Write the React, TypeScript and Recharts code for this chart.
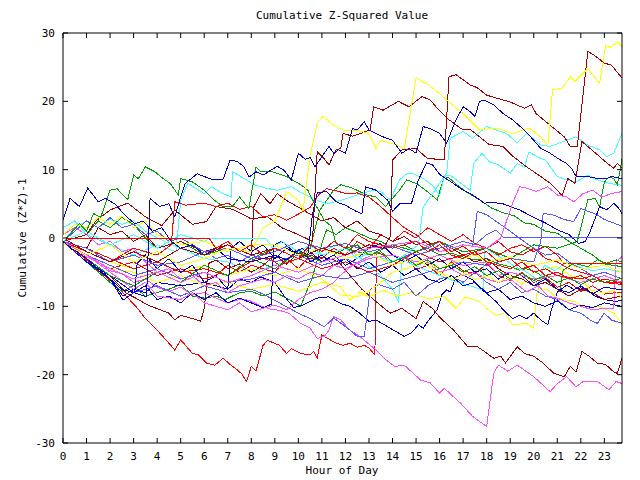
import { LineChart, Line, XAxis, YAxis } from "recharts";

// hourly ticks and value ticks
const hourTicks = [0, 1, 2, 3, 4, 5, 6, 7, 8, 9, 10, 11, 12, 13, 14, 15, 16, 17, 18, 19, 20, 21, 22, 23];
const valueTicks = [-30, -20, -10, 0, 10, 20, 30];

type Pt = [number, number]; // [hour, cumulative value]

const RED = "#ff0000";
const GREEN = "#00a000";
const BLUE = "#0000c8";
const MAGENTA = "#ff50ff";
const CYAN = "#40ffff";
const DARKRED = "#a00000";
const YELLOW = "#ffff00";
const SLATE = "#5858ff";

const redLow: Pt[] = [[0,-0.5],[0.5,-1.8],[1,-3.2],[1.5,-4.8],[2,-6.2],[2.7,-8.6],[3.1,-10],[3.5,-11.8],[4,-13.5],[4.4,-15],[4.75,-16.4],[5,-14.9],[5.5,-16.9],[5.75,-17.1],[6.1,-18.3],[6.45,-18.6],[6.8,-17.6],[7.1,-18.5],[7.4,-19.3],[7.6,-19.9],[7.8,-21],[8,-18.8],[8.2,-19.5],[8.5,-15.7],[8.7,-15],[9.2,-15.7],[9.5,-16.9],[9.7,-16.2],[10.1,-16.9],[10.5,-17.1],[10.65,-16.6],[10.8,-17.6],[11,-14.2],[11.6,-15.4],[11.9,-15.7],[12.2,-15.4],[12.5,-16],[12.8,-15.7],[13,-16.1],[13.25,-17.1],[13.32,-2.2],[13.6,-2.4],[13.8,-3.2],[14.2,-3.6],[14.5,-2.8],[15,-4.6],[15.5,-4],[16,-5.5],[16.5,-3.5],[17,-4.8],[17.5,-5.2],[18,-3.8],[18.5,-5.5],[19,-6.2],[19.5,-5],[20,-6.5],[20.5,-5.8],[21,-7.2],[21.5,-6.5],[22,-7.8],[22.5,-7],[23,-8.2],[23.75,-7.9]];
const redFlat0: Pt[] = [[0,0],[6.2,0],[6.5,-1.5],[7,-0.5],[7.5,-2],[8,-1],[8.5,-2.5],[9,-1.5],[10,-3],[10.5,-1],[11,-2],[11.5,-0.5],[12,-1.5],[12.5,0.5],[13,-0.5],[14,-1.5],[15,-0.5],[15.5,-2],[16,-1],[16.5,-2.5],[17,-3],[17.5,-2],[18,-3.5],[19,-4.5],[19.5,-3.5],[20,-5],[20.5,-4.5],[21,-5.5],[22,-6],[22.5,-5.5],[23,-6.5],[23.75,-6.6]];
const redMid: Pt[] = [[0,-0.5],[1,-2],[2,-3.5],[3,-1.5],[4,-2.5],[4.6,-1],[4.75,5.3],[5.2,4.8],[6,5.1],[6.5,4.6],[7,5.1],[7.5,4.2],[8,4.6],[8.5,3.1],[9,3.4],[9.5,2.6],[10,3.5],[10.5,4.5],[10.9,6.5],[11.2,7.2],[11.6,6.9],[12.05,6.5],[12.5,6.6],[13,6],[13.5,4.6],[14,3],[14.5,1.5],[15,0.5],[15.5,-1],[16,-0.5],[16.5,-2],[17,-1.2],[17.5,-2.5],[18,-2],[18.5,-3.5],[19,-3],[19.5,-4.5],[20,-4],[20.5,-5.5],[21,-5],[21.5,-6],[22,-5.5],[22.5,-6.5],[23,-6],[23.75,-6.6]];
const redFlatEnd: Pt[] = [[0,-0.5],[1,-1.5],[2,-3],[3,-4.5],[4,-3.5],[5,-5],[6,-4.5],[7,-5.5],[8.2,-3],[8.8,-3],[9.2,-4],[10,-3],[11,-4.5],[12,-3.5],[13,-5],[14,-4],[15,-2],[16,-3.5],[17,-2.5],[18,-1.5],[18.5,-2.5],[19,-1.5],[19.5,-1],[20,-2],[20.5,-1.2],[21,-2.5],[21.3,-3.8],[23.75,-3.8]];
const redWander: Pt[] = [[0,-0.5],[1,-2.5],[2,-4.5],[3,-3.5],[4,-5.5],[5,-4.5],[6,-6],[6.5,-5.5],[7,-4],[7.5,-5],[8,-4],[9,-5],[9.5,-3],[10,-4.5],[10.5,-2.5],[11,-3],[11.5,-1.5],[12,-2.5],[12.5,-0.5],[13,-1.5],[13.5,0.5],[14,-0.5],[14.5,1],[15,0],[15.5,1.5],[16,0.5],[16.5,-0.5],[17,0.5],[17.5,-0.8],[18,-1.5],[18.5,-0.5],[19,-2],[19.5,-2.5],[20,-1.5],[20.5,-3],[21,-3.5],[21.5,-4.5],[22,-5],[22.5,-5.5],[23,-6.5],[23.75,-6.8]];

const greenTop: Pt[] = [[0,-0.5],[0.7,2.1],[1,1],[1.3,3.6],[1.6,3],[2,7],[2.3,7.2],[2.75,5.6],[3,9.2],[3.2,8.7],[3.5,10.4],[3.9,9.7],[4.25,8.7],[4.55,8],[4.9,6.3],[5,8.7],[5.5,8.2],[6,7],[6.4,5.6],[6.8,4.6],[7.2,4.6],[7.5,6],[7.9,4.3],[8.2,10.4],[8.4,9.7],[8.9,9.7],[9.5,9],[10.1,7.8],[10.4,7],[10.6,5.6],[11.1,2.6],[11.4,1.7],[11.6,-0.8],[12,-1.5],[12.5,-1],[13,-2.5],[13.5,-2],[14,-3.5],[14.5,-2.8],[15,-4],[15.5,-3.2],[16,-4.5],[16.5,-4],[17,-5],[17.5,-4.2],[18,-5.5],[18.5,-4.8],[19,-6],[19.5,-5.2],[20,-6.2],[20.5,-5.5],[21,-6.5],[21.5,-5.8],[22,-6.8],[22.5,-6],[23,-6.5],[23.75,-5.9]];
const greenRise: Pt[] = [[0,-0.5],[1,-3],[2,-5.5],[3,-7],[4,-5],[5,-6.5],[6,-4],[7,-5.5],[8,-3],[9,-4.5],[10,-2],[11,-3.5],[12,-1.5],[13,-2.5],[14,-1],[15,-2],[16,-0.5],[17,-2],[18,-1.5],[19,-3],[20,-1],[21,-1.5],[21.85,-0.5],[22.3,5.6],[22.6,5.8],[22.8,4.6],[23,8.2],[23.2,8.9],[23.4,8.7],[23.55,7.8],[23.65,9.5],[23.75,11.5]];
const greenLow: Pt[] = [[0,-0.5],[1,-3.5],[2,-6.5],[2.5,-7.8],[3,-7],[3.5,-8.5],[4,-8],[4.5,-7.5],[5,-6.8],[5.5,-8.5],[6,-8.8],[6.5,-8.5],[6.9,-9],[7.5,-8],[8,-7.8],[8.5,-8.5],[9,-7.9],[9.5,-8.8],[10.1,-10],[10.6,-5.7],[11,-0.8],[11.2,1.2],[11.6,0.5],[12,1.5],[12.5,0.8],[13,0],[13.5,-0.5],[14,-1.5],[14.5,-1],[15,-2],[15.5,-1.5],[16,-2.5],[16.5,-2.2],[17,-2.8],[17.5,-3.2],[18,-3],[18.5,-3.8],[19,-4.2],[19.4,-4.7],[19.7,-4.5],[20.2,-5.2],[20.85,-7.1],[21.1,-7.8],[21.25,-4.7],[21.7,-3.7],[22.3,-4.2],[22.7,-3.2],[23.1,-3.7],[23.5,-3.2],[23.75,-3.5]];
const greenMid: Pt[] = [[0,-0.8],[0.5,1.5],[1,0.5],[1.5,2.5],[2,1.5],[2.5,3],[3,2],[3.5,0],[4,-1.5],[5,-0.5],[6,-2.5],[7,-1.5],[8,-3],[9,-1.5],[10,-3],[10.5,-1.5],[10.9,4],[11.2,5.5],[11.5,7],[11.8,7.8],[12.3,7.3],[12.9,6.3],[13.3,6],[13.7,4.6],[14,5.8],[14.3,7],[14.6,8.5],[15,8],[15.4,7],[15.9,5.6],[16.2,9],[16.4,8.8],[16.8,7.6],[17.2,6.6],[17.7,5.6],[18.2,4.4],[18.7,3.7],[19.2,3.2],[19.6,2.2],[20,2],[20.5,1],[21,0.7],[21.5,-0.5],[22,-1.5],[22.5,-2.5],[23,-3.8],[23.75,-4.2]];

const blueTop: Pt[] = [[0,-0.5],[1,-3.5],[2,-6],[2.5,-7.5],[3,-8],[3.55,-8.6],[3.7,5.8],[4.1,4.6],[4.5,5],[4.75,3.1],[5,6],[5.2,8],[5.7,9.4],[6.3,8.6],[6.8,8.6],[7.1,11.4],[7.4,11.2],[7.7,10.4],[7.9,8.9],[8.2,9.7],[8.5,9.2],[9.1,10.5],[9.4,9.9],[9.7,8.5],[10,12.4],[10.3,11.5],[10.5,11.8],[10.7,10.4],[11.3,13.4],[11.5,12.4],[11.7,12.9],[12,12.4],[12.3,16],[12.5,15.8],[12.8,17],[13,15.8],[13.3,15.3],[13.6,14.8],[14,14.3],[14.4,12.4],[14.7,13.1],[15,12.4],[15.3,16.3],[15.6,16],[16,15.3],[16.3,13.9],[16.7,17.3],[17,19.2],[17.3,18.5],[17.5,17.8],[17.7,20],[17.9,20.2],[18.3,19.5],[18.7,18.2],[19.1,17.3],[19.6,15.8],[20,14.3],[20.3,13.1],[20.7,12.4],[21,11.7],[21.4,10.9],[21.6,10.2],[21.8,9],[22.3,9],[22.7,8.7],[23.1,8.7],[23.3,9],[23.75,8.7]];
const blueEarly: Pt[] = [[0,2.6],[0.3,5.8],[0.7,4.6],[1.05,7.3],[1.5,5.3],[1.8,5.8],[2.2,5],[2.7,3.1],[3.05,2.1],[3.4,2.5],[3.8,1],[4.2,1.5],[4.6,-0.5],[5,-1.5],[5.5,-1],[6,-2.5],[6.5,-1.5],[7,-3],[8,-3.5],[9,-2.5],[9.5,-3.2],[10,-1.8],[10.4,-2.5],[10.6,3.5],[10.8,6.6],[11.2,6.8],[11.6,5.3],[12,4.8],[12.4,4],[12.7,3.5],[12.85,7.5],[13.3,7],[13.8,5.5],[14,3.9],[14.3,5],[14.8,5],[15.1,8.5],[15.45,11],[15.7,10.7],[16,9.3],[16.45,8.3],[17,7],[17.4,6.3],[17.9,5.1],[18.3,5.2],[18.7,5],[19,4.6],[19.4,4.1],[19.9,3.2],[20.5,2.2],[21,1.2],[21.5,0.5],[21.9,-0.8],[22.2,-0.5],[22.4,1],[22.8,4.6],[23.1,4.1],[23.4,5.1],[23.6,4.4],[23.75,3.6]];
const blueLow: Pt[] = [[0,-0.5],[1,-3],[2,-6],[2.55,-8.5],[3,-7.5],[3.5,-8],[4,-6.5],[5,-7],[6,-6.5],[7,-7.5],[7.5,-6],[8,-6.5],[8.4,-5.7],[9,-6.5],[9.4,-8.5],[9.8,-10.2],[10.2,-9.8],[10.8,-8.8],[11.3,-8.6],[11.8,-9.6],[12.2,-10],[12.6,-11],[13,-12.2],[13.3,-12],[13.8,-13],[14,-13.4],[14.5,-14.4],[14.8,-13.9],[15.1,-12.7],[15.3,-13.2],[15.5,-12.2],[15.9,-10.5],[16.1,-8.3],[16.3,-7.6],[16.45,-7.9],[16.7,-5.7],[17,-5.4],[17.4,-6.1],[17.7,-7.3],[18,-8.1],[18.4,-9.3],[18.7,-10.5],[19.1,-11.8],[19.4,-11.3],[19.7,-11.8],[20,-11],[20.3,-12],[20.6,-12.7],[20.75,-10.5],[21,-7.9],[21.4,-6.9],[21.7,-7.5],[22,-7.3],[22.3,-7.6],[22.6,-8.5],[23,-9],[23.5,-9.3],[23.75,-9.1]];
const blueJump: Pt[] = [[0,-0.5],[1,-3],[2,-6],[2.55,-9.1],[3.05,-7.9],[3.15,-3.7],[3.5,-2.5],[4,-4.5],[4.5,-3],[5,-5],[5.5,-4],[6,-6.5],[6.5,-5.5],[7,-7.5],[7.15,-1.5],[7.5,-0.5],[8,-2],[8.5,-1],[9,-3],[9.5,-1.5],[10,-2.5],[10.5,-2],[11,-3.5],[11.5,-2.5],[12,-4],[12.5,-3],[13,-1.5],[13.5,-0.8],[14,-2.5],[14.5,-3.5],[15,-2.5],[15.5,-4],[16,-3],[16.5,-4.5],[17,-3.5],[17.5,-5],[18,-4.5],[18.5,-6],[19,-5],[19.5,-5.5],[20,-7],[20.5,-6],[21,-7.5],[21.5,-8],[22,-7],[22.5,-8.2],[23,-7.2],[23.75,-7.6]];
const blueSlide: Pt[] = [[0,-0.5],[1,-3.5],[2,-5.5],[3,-8],[3.5,-7],[4,-9],[4.5,-8.5],[5,-9.5],[5.5,-8],[6,-9],[6.5,-8],[7,-9.5],[7.5,-8.8],[8,-9.5],[8.5,-10.2],[8.85,-9.7],[8.95,-1],[9.3,-0.5],[9.8,-2],[10.2,-1.5],[10.5,-3.5],[11,-2.5],[11.5,-4],[12,-3],[12.5,-4.5],[13,-3.5],[13.5,-5],[14,-4],[14.5,-5.5],[15,-4.5],[15.5,-6],[16,-6.5],[16.5,-5.5],[17,-7],[17.5,-6.5],[18,-8],[18.5,-7.5],[19,-9],[19.5,-8.5],[20,-9.5],[20.5,-10],[21,-9.2],[21.5,-10.5],[22,-9.8],[22.5,-10.2],[23,-9.5],[23.75,-10]];

const magentaLow: Pt[] = [[0,-0.5],[0.5,-1.5],[1,-2.8],[1.5,-3.5],[2,-4.8],[2.5,-5.2],[3,-6.5],[3.5,-6],[4,-7.2],[4.5,-7.8],[5,-7.2],[5.5,-8.3],[6,-8],[6.5,-8.8],[7,-9.5],[7.5,-9],[7.9,-9.1],[8.3,-9.8],[8.8,-10.4],[9.2,-10.6],[9.6,-11],[10.1,-12.5],[10.5,-13.2],[10.8,-14.7],[11.1,-14.4],[11.3,-13.5],[11.5,-11.5],[11.8,-12],[12.2,-13.5],[12.6,-14.4],[13.2,-16.1],[13.75,-17.9],[14.1,-18.8],[14.5,-18.6],[15.2,-20.8],[15.6,-21.2],[16,-22.7],[16.2,-22],[16.9,-24.2],[17.4,-26.1],[18,-27.6],[18.3,-19.8],[18.5,-18.6],[18.9,-19.5],[19.3,-18.6],[20,-20.3],[20.7,-22.5],[21,-21.3],[21.4,-20.3],[21.8,-21.8],[22.1,-21],[22.7,-21],[23.2,-22.2],[23.5,-21],[23.75,-21.3]];
const magentaRise: Pt[] = [[0,-0.5],[1,-2.5],[2,-4.5],[3,-6],[4,-5],[5,-6.5],[6,-5],[7,-6.5],[8,-5.5],[9,-4],[10,-5],[11,-3.5],[12,-2.5],[13,-1.5],[14,-1],[15,-0.5],[16,-2],[17,-1],[18,-1.5],[18.6,0],[19.1,5.1],[19.4,7.5],[19.7,7.3],[20.1,6.8],[20.6,7.5],[21,6.3],[21.4,6],[21.7,5.3],[22.1,6.5],[22.5,7],[22.9,6],[23.3,6.5],[23.75,6.8]];
const magentaMid: Pt[] = [[0,-0.5],[1,-2.5],[2,-5],[3,-7.5],[3.5,-6.5],[4,-8.5],[5,-9],[5.5,-8],[6,-9.5],[7,-10.5],[7.5,-9.5],[8,-10.8],[9,-9.8],[9.5,-10.5],[10,-9],[10.5,-8],[11,-7.5],[11.5,-6.5],[11.77,-5.5],[12.3,-4],[12.8,-3],[13.5,-2],[14,-3.5],[14.5,-2.5],[15,-4],[15.5,-3.5],[16,-5],[16.5,-4.5],[17,-5.5],[17.5,-5],[18,-6],[18.5,-6.5],[19,-6],[19.7,-7.9],[20.2,-7],[20.6,-8.5],[21,-8.8],[21.5,-9.5],[22,-10],[22.5,-10.5],[23,-10.3],[23.4,-10.3],[23.5,-3.5],[23.75,-2.7]];
const magentaHigh: Pt[] = [[0,0.5],[0.5,1.5],[1,0.5],[1.5,-1],[2,-0.5],[2.5,-2],[3,-1.5],[3.5,-3.5],[4,-5],[4.5,-4.5],[5,-6],[5.5,-5.5],[6,-7],[6.5,-6.5],[7,-8],[7.5,-7],[8,-6.5],[8.5,-6],[9,-6.5],[9.5,-5.5],[10,-6],[10.5,-5],[11,-5.5],[11.5,-4],[12,-4.5],[13,-3],[14,-2.5],[15,-3.5],[16,-2.5],[17,-4],[18,-3.5],[18.5,-5.5],[19,-5],[20,-6],[21,-5.5],[22,-6.5],[23,-5.5],[23.75,-6.5]];

const cyanHigh: Pt[] = [[0,-0.5],[1,1],[2,-1],[3,0.5],[4,-1.5],[5,0.5],[6,-0.5],[6.25,0],[8.6,0],[8.9,-1.5],[9.3,-0.5],[10,-2],[10.5,-1],[11,-2.5],[12,-1.5],[12.5,-3],[13,-2.2],[14,-3.5],[14.5,-2.5],[15.1,-1],[15.3,4.5],[15.7,6.5],[16.1,8.5],[16.3,9.5],[16.45,14.6],[17,15.6],[17.4,14.6],[18,16.3],[18.4,15.8],[18.85,15.3],[19.3,13.9],[19.7,15.3],[20.3,13.6],[20.7,13.4],[21.4,14.3],[21.8,14.8],[22.3,13.6],[22.8,12.9],[23.1,11.9],[23.4,12.4],[23.75,15.3]];
const cyanMid: Pt[] = [[0,1.5],[0.5,2.5],[1,0.5],[2,-1],[3,-2.5],[4,-1],[4.8,-2],[5,5.5],[5.3,8],[6,6.5],[6.3,7.5],[6.8,6.5],[7.15,6],[7.2,9.7],[7.8,8.5],[8.1,7.8],[8.6,7.3],[9.1,7],[9.7,7.5],[10.2,6.5],[10.6,5.8],[11.2,5],[11.8,5.5],[12.5,6.3],[13.2,7],[13.5,6.8],[13.9,5.6],[14.3,8.5],[14.6,9.4],[14.9,9.4],[15.3,8.7],[15.7,7.7],[16,6.2],[16.2,9],[16.45,9.2],[16.9,8],[17.3,7],[17.45,10.9],[17.8,12.4],[18.1,11.2],[18.5,10.7],[19,9.5],[19.3,10.9],[19.6,10.4],[19.8,12.6],[20.3,11.6],[20.5,11.4],[21,9],[21.4,8.5],[21.8,8.2],[22.3,9.2],[22.7,8.5],[23.2,8],[23.75,7.7]];
const cyanLow: Pt[] = [[0,-0.5],[0.5,1.5],[1,2.5],[1.5,1.5],[2,2.8],[2.5,2],[3,2.5],[3.5,1],[4,0],[5,-1.5],[6,-3],[7,-3.5],[8,-5],[9,-4],[10,-3],[11,-2],[11.77,-0.8],[12.2,-1.8],[12.6,-2.8],[13,-4.2],[13.5,-5.5],[14,-7.5],[14.25,-9.3],[14.4,-3.2],[14.8,-3.8],[15.3,-4.5],[15.8,-5.2],[16.3,-5.9],[16.8,-6.5],[17.3,-7],[17.85,-7.6],[17.9,-1.3],[18.3,-2.3],[18.8,-3.2],[19.2,-4.2],[19.6,-4.8],[20,-5.7],[20.2,-7.2],[20.45,-4],[20.9,-4.8],[21.4,-3.5],[21.9,-4.2],[22.5,-4.8],[23,-4.5],[23.75,-5]];

const darkTop: Pt[] = [[0,0],[1,-2],[2,-3.5],[3,-2],[4,-3.5],[5,-1.5],[6,-2.5],[7,-1],[8,-2.5],[9,-1.5],[10,-3],[11,-1.5],[12,-2.5],[13,-1],[13.6,-1.5],[13.9,0.2],[14,11.4],[14.4,12.9],[15,13.1],[15.5,11.6],[16.2,11.5],[16.4,23.6],[16.7,23.9],[17.3,22.4],[17.6,22],[18,20.9],[18.7,20.2],[19,19.9],[19.6,19],[19.9,19.5],[20.1,18.2],[20.7,16.5],[21.3,14.8],[21.55,13.4],[21.85,13.4],[22.3,27.3],[22.55,26.8],[23,25.6],[23.3,25.3],[23.75,23.4]];
const darkSecond: Pt[] = [[0,-0.5],[1,0.5],[1.4,2.5],[2,4.1],[2.75,5.1],[3.5,3.1],[4.2,1.8],[4.75,4.1],[5.5,2],[6.1,2.4],[6.5,4.6],[7.2,4.2],[8,2.8],[8.7,3.1],[9.3,1.5],[10,0.5],[10.6,-0.5],[10.8,12.6],[11.05,11.8],[11.3,10.7],[11.6,12.9],[11.8,13.1],[11.9,15.3],[12.3,14.9],[13.05,15.8],[13.2,19.2],[13.6,18.7],[14.25,20],[14.7,19.2],[15.25,20.7],[15.6,20.2],[16,18.6],[16.4,17.3],[17,15.8],[17.3,15.9],[17.7,14.8],[18.1,13.7],[18.7,13.4],[19.1,12],[19.7,10.4],[20.3,9],[20.7,8],[21,7],[21.2,6.2],[21.45,8.7],[21.75,8],[22.05,14.1],[22.5,12.8],[23.1,11],[23.4,10.2],[23.55,10.9],[23.75,10.3]];
const darkLow: Pt[] = [[0,-0.5],[1,-3],[2,-5.5],[2.7,-8.1],[3.2,-9],[3.6,-9.8],[4.5,-11],[4.75,-12],[5,-11.3],[5.7,-12],[5.85,-12.2],[6,-10.3],[6.2,-3.7],[6.5,-3.2],[7,-4.5],[7.5,-3.8],[8,-5],[8.5,-4],[9,-2.5],[9.5,-3.8],[10,-2.2],[10.5,-3],[11,-2.8],[11.5,-3.2],[11.77,-3.7],[12.2,-5.5],[12.7,-7.5],[13.3,-9.3],[13.9,-11],[14.4,-10.3],[14.8,-11.3],[15,-11.8],[15.3,-9.3],[15.7,-10.3],[16,-11.6],[16.6,-13.5],[17.2,-15.9],[17.6,-15.9],[17.9,-16.6],[18.3,-17.6],[18.6,-17.3],[18.8,-18.3],[19.3,-15.9],[19.6,-16.9],[20,-17.3],[20.4,-18.3],[20.85,-19.8],[21.3,-20.3],[21.55,-18.8],[21.8,-19.6],[22.05,-16.6],[22.35,-17.3],[22.7,-18.3],[23.05,-18.5],[23.4,-19.6],[23.55,-19.8],[23.75,-17.6]];
const darkMid: Pt[] = [[0,-0.5],[1,-1.5],[1.5,1.5],[2,0.5],[2.5,1],[3,-0.5],[3.5,0.5],[4,-1.5],[5,-0.5],[6,-2],[7,-1],[8,-2.5],[8.1,4.5],[8.4,6.5],[8.8,5],[9.1,6.5],[9.5,5.5],[10,4.5],[10.5,3.5],[11,2.5],[11.5,3],[12,1.5],[12.5,2.5],[13,1],[13.5,0.5],[14,-0.5],[14.5,0.2],[15,-1],[15.5,-0.5],[16,-2],[16.5,-1.5],[17,-2.5],[17.5,-3.5],[18,-3],[18.5,-4.5],[19,-5.5],[19.5,-6],[20,-7],[20.5,-6.5],[21,-7.5],[21.5,-8.5],[22,-7.5],[22.5,-8],[23,-9],[23.75,-8.5]];

const yellowTop: Pt[] = [[0,-0.8],[1,-2.5],[2,-1],[3,-3.5],[4,-2],[5,-4],[6,-3],[7,-1.5],[8,-2],[8.5,1.5],[9,2.5],[9.5,6.8],[10,5.5],[10.2,4],[10.5,12],[10.8,16.8],[11.05,17.8],[11.5,16.5],[11.9,15.8],[12.5,15.8],[13,15.2],[13.3,13.1],[13.5,14.3],[14.2,13.6],[14.5,13.1],[15,23.4],[15.5,22.5],[15.9,21.4],[16.4,19.9],[17,18.2],[17.7,15.8],[18.4,16.1],[19.1,15.3],[19.8,16.1],[20.3,14.8],[20.6,13.6],[20.8,21.7],[21.2,21.9],[21.55,23.6],[21.75,22.9],[22.3,24.8],[22.8,22.6],[23.05,28.2],[23.25,27.9],[23.55,28.7],[23.75,28]];
const yellowLow: Pt[] = [[0,-0.5],[1,-2.5],[2,-4.5],[3,-5],[4,-6.5],[5,-5.5],[6,-7],[7,-6.5],[8,-7.5],[9,-6.8],[10,-7.8],[11,-6.5],[11.77,-7.1],[12.2,-9.1],[12.6,-7.9],[13,-8.6],[13.6,-7.6],[14.2,-8.5],[14.8,-8],[15.5,-8.9],[16.2,-8.6],[16.7,-10.3],[17.1,-8.6],[17.7,-9.3],[18,-10.3],[18.4,-11.3],[18.8,-11],[19.1,-12.7],[19.7,-12.5],[20,-13.2],[20.15,-7.6],[20.6,-7.6],[21,-8.8],[21.7,-9.3],[22.3,-10.3],[22.8,-10],[23.4,-11],[23.75,-12.5]];
const yellowMid: Pt[] = [[0,-0.8],[1,-2],[2,-3.5],[3,-4.5],[4,-3.5],[5,-5],[6,-4],[7,-5.5],[8,-4.5],[9,-5.5],[10,-4.5],[11,-6],[11.77,-8.3],[12.5,-8.6],[13,-7.8],[13.5,-6.5],[14,-5],[14.6,-4.5],[15.2,-3.5],[15.8,-4.7],[16.6,-6.1],[17.1,-5.1],[17.5,-6.1],[18,-5.5],[18.5,-6.5],[19,-5.5],[19.5,-6.8],[20,-5],[20.5,-4.5],[21,-4.2],[21.4,-5.2],[22,-6.1],[22.4,-7.6],[23,-8.1],[23.4,-7.6],[23.75,-8.8]];
const yellowHigh: Pt[] = [[0,0.5],[0.5,2],[1,1.5],[1.5,3],[2,2],[2.5,3.2],[3,1.5],[3.5,2.5],[4,0.5],[5,-1],[6,-0.5],[7,-2],[8,-1],[9,-1],[10,-2.5],[11,-1.5],[12,-3],[13,-2],[14,-4],[15,-3],[16,-4.5],[17,-3],[17.5,-2.5],[18,-3.5],[19,-2.8],[20,-4],[21,-3.2],[22,-4.5],[23,-4],[23.75,-5]];

const slateJump: Pt[] = [[0,-0.5],[0.5,1],[1,2.5],[1.5,1.5],[2,3],[2.5,1.5],[3,2],[3.5,0.5],[4,1],[4.5,-0.5],[5,0],[5.5,-1],[6,-2],[6.5,-3],[7,-2.5],[7.5,-3.5],[8,-2.5],[9,-3.5],[10,-2.5],[11,-4],[12,-3],[13,-4.5],[14,-3.5],[15,-2],[15.5,-1.5],[16,-0.5],[16.5,-1.5],[17,-1],[17.4,-1.2],[17.6,3.9],[18,3.4],[18.5,2.2],[19,1],[19.5,-0.3],[20,-1.5],[20.5,-2.5],[21,-2.2],[21.5,-3.5],[22,-4.5],[22.5,-5.5],[23,-5],[23.75,-6]];
const slateLate: Pt[] = [[0,-0.5],[1,-2.5],[2,-4],[3,-5.5],[4,-4.5],[5,-6],[6,-5],[7,-6.5],[8,-6],[9,-5],[10,-6.5],[11,-5.5],[12,-6],[13,-5],[14,-6.5],[15,-5.5],[16,-4.5],[17,-3.5],[18,-4],[19,-3],[20,-3.5],[20.3,-0.5],[20.4,3.6],[20.8,3.4],[21.3,2.7],[21.7,2.4],[22,4.3],[22.4,3.8],[22.7,3.4],[23,2.7],[23.4,2.2],[23.75,1.7]];
const slateFlat: Pt[] = [[0,-0.5],[1,-1.5],[2,-3.5],[3,-2.5],[4,-4],[5,-3.5],[6,-2],[7,-1.5],[8,-3],[9,-2],[10,-0.5],[11,-1.5],[12,-0.8],[13,-2],[14,-1.2],[15,-2.5],[16,-1.5],[17,-0.5],[17.5,-1],[18,0.5],[18.4,1.2],[18.7,0.1],[23.75,0.1]];
const slateLow: Pt[] = [[0,-0.5],[1,-3],[2,-5.5],[3,-8],[4,-7],[5,-8.5],[6,-7],[7,-8],[8,-7.5],[8.5,-8.2],[9.2,-9.5],[10,-11],[10.5,-11.8],[11.1,-13],[11.5,-11.7],[11.9,-12.7],[12.2,-13.5],[12.5,-14.4],[12.8,-14.4],[13.05,-7.6],[13.4,-6.8],[14,-7.5],[14.5,-6.5],[15,-8.5],[15.5,-7],[16,-6],[16.5,-5.5],[17,-6.5],[17.5,-5],[18,-6.5],[18.5,-7.5],[19,-6.5],[19.5,-8],[20,-7.5],[20.5,-8.5],[21,-9],[21.5,-10.5],[22,-11],[22.4,-12],[22.7,-12.5],[23,-11],[23.3,-12],[23.75,-12.5]];

const series: { key: string; color: string; points: Pt[] }[] = [
  { key: "redLow", color: RED, points: redLow },
  { key: "greenLow", color: GREEN, points: greenLow },
  { key: "blueLow", color: BLUE, points: blueLow },
  { key: "magentaLow", color: MAGENTA, points: magentaLow },
  { key: "cyanLow", color: CYAN, points: cyanLow },
  { key: "darkLow", color: DARKRED, points: darkLow },
  { key: "yellowLow", color: YELLOW, points: yellowLow },
  { key: "slateLow", color: SLATE, points: slateLow },
  { key: "redWander", color: RED, points: redWander },
  { key: "greenMid", color: GREEN, points: greenMid },
  { key: "blueSlide", color: BLUE, points: blueSlide },
  { key: "magentaMid", color: MAGENTA, points: magentaMid },
  { key: "cyanMid", color: CYAN, points: cyanMid },
  { key: "darkMid", color: DARKRED, points: darkMid },
  { key: "yellowMid", color: YELLOW, points: yellowMid },
  { key: "slateJump", color: SLATE, points: slateJump },
  { key: "redFlatEnd", color: RED, points: redFlatEnd },
  { key: "greenRise", color: GREEN, points: greenRise },
  { key: "blueJump", color: BLUE, points: blueJump },
  { key: "magentaHigh", color: MAGENTA, points: magentaHigh },
  { key: "cyanHigh", color: CYAN, points: cyanHigh },
  { key: "darkSecond", color: DARKRED, points: darkSecond },
  { key: "yellowHigh", color: YELLOW, points: yellowHigh },
  { key: "slateLate", color: SLATE, points: slateLate },
  { key: "redMid", color: RED, points: redMid },
  { key: "greenTop", color: GREEN, points: greenTop },
  { key: "blueEarly", color: BLUE, points: blueEarly },
  { key: "magentaRise", color: MAGENTA, points: magentaRise },
  { key: "slateFlat", color: SLATE, points: slateFlat },
  { key: "darkTop", color: DARKRED, points: darkTop },
  { key: "yellowTop", color: YELLOW, points: yellowTop },
  { key: "blueTop", color: BLUE, points: blueTop },
  { key: "redFlat0", color: RED, points: redFlat0 },
];

const FONT = "'DejaVu Sans Mono', monospace";
const TICK = 5;

// gnuplot-style inward ticks on all four sides
const BottomTick = (p: any) => (
  <g>
    <line x1={p.x} y1={p.y} x2={p.x} y2={p.y - TICK} stroke="#000" />
    <text x={p.x} y={p.y + 17} textAnchor="middle" fontFamily={FONT} fontSize={11} fill="#000">
      {p.payload.value}
    </text>
  </g>
);
const TopTick = (p: any) => <line x1={p.x} y1={p.y} x2={p.x} y2={p.y + TICK} stroke="#000" />;
const LeftTick = (p: any) => (
  <g>
    <line x1={p.x} y1={p.y} x2={p.x + TICK} y2={p.y} stroke="#000" />
    <text x={p.x - 8} y={p.y + 4} textAnchor="end" fontFamily={FONT} fontSize={11} fill="#000">
      {p.payload.value}
    </text>
  </g>
);
const RightTick = (p: any) => <line x1={p.x} y1={p.y} x2={p.x - TICK} y2={p.y} stroke="#000" />;

export default function App() {
  return (
    <div style={{ position: "absolute", left: 0, top: 0, width: 640, height: 480, background: "#fff" }}>
      <style>{".recharts-line-curve{shape-rendering:crispEdges}"}</style>
      <LineChart width={640} height={480} margin={{ top: 32, right: 17, bottom: 0, left: 0 }}>
        <XAxis xAxisId="b" dataKey="h" type="number" domain={[0, 23.75]} ticks={hourTicks}
          height={37} tickSize={0} tickMargin={0} tickLine={false} tick={BottomTick}
          axisLine={{ stroke: "#000" }} allowDataOverflow />
        <XAxis xAxisId="t" orientation="top" dataKey="h" type="number" domain={[0, 23.75]} ticks={hourTicks}
          height={1} tickSize={0} tickMargin={0} tickLine={false} tick={TopTick}
          axisLine={{ stroke: "#000" }} allowDataOverflow />
        <YAxis yAxisId="l" type="number" domain={[-30, 30]} ticks={valueTicks} width={63}
          tickSize={0} tickMargin={0} tickLine={false} tick={LeftTick}
          axisLine={{ stroke: "#000" }} allowDataOverflow />
        <YAxis yAxisId="r" orientation="right" type="number" domain={[-30, 30]} ticks={valueTicks} width={1}
          tickSize={0} tickMargin={0} tickLine={false} tick={RightTick}
          axisLine={{ stroke: "#000" }} allowDataOverflow />
        {series.map((s) => (
          <Line
            key={s.key}
            xAxisId="b"
            yAxisId="l"
            data={s.points.map(([h, v]) => ({ h, v }))}
            dataKey="v"
            type="linear"
            stroke={s.color}
            strokeWidth={1}
            dot={false}
            activeDot={false}
            isAnimationActive={false}
          />
        ))}
        {/* invisible series so the mirror axes have something attached */}
        <Line xAxisId="t" yAxisId="r" data={[{ h: 0, v: 0 }]} dataKey="v" stroke="none" dot={false} activeDot={false} isAnimationActive={false} />
      </LineChart>
      <svg width={640} height={480} style={{ position: "absolute", left: 0, top: 0, pointerEvents: "none" }}>
        <text x={342} y={19} textAnchor="middle" fontFamily={FONT} fontSize={11} fill="#000">
          Cumulative Z-Squared Value
        </text>
        <text x={342} y={474} textAnchor="middle" fontFamily={FONT} fontSize={11} fill="#000">
          Hour of Day
        </text>
        <text x={26} y={238} textAnchor="middle" fontFamily={FONT} fontSize={11} fill="#000"
          transform="rotate(-90 26 238)">
          Cumulative (Z*Z)-1
        </text>
      </svg>
    </div>
  );
}
